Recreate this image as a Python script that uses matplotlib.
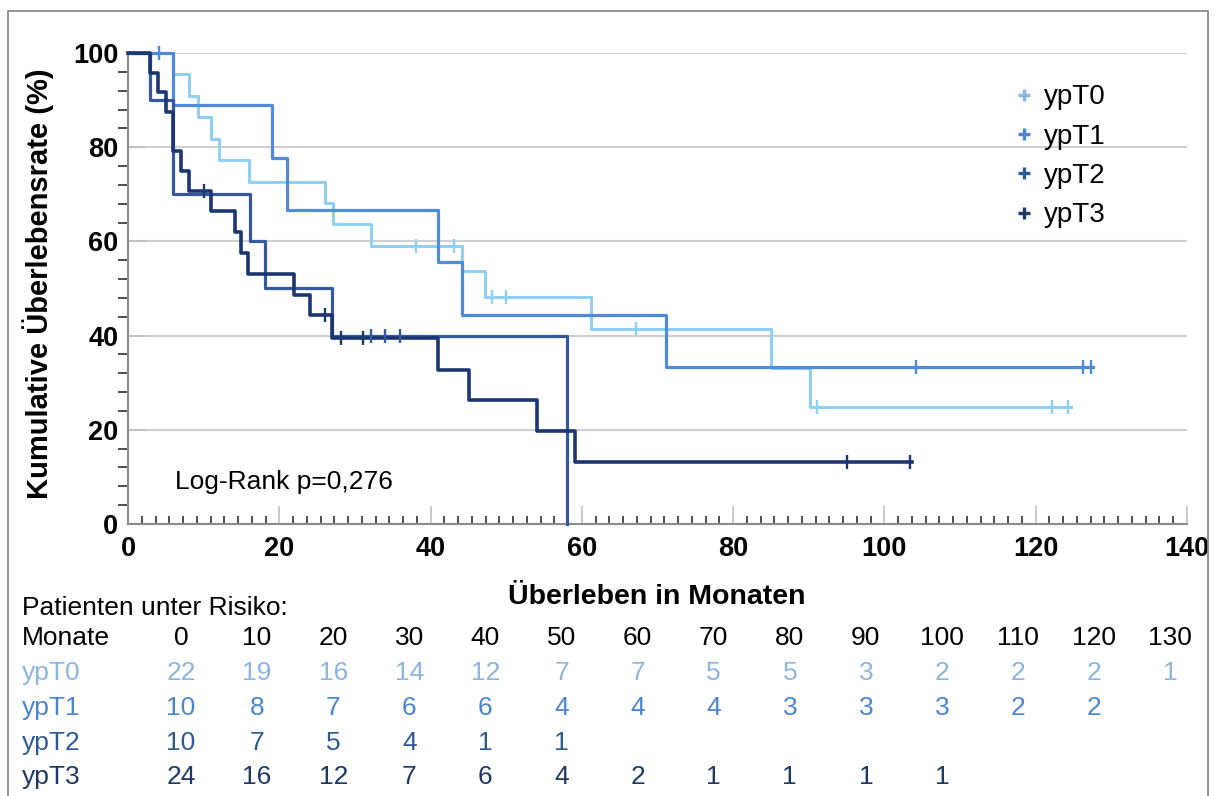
import numpy as np
import matplotlib
matplotlib.use("Agg")
from matplotlib import pyplot as plt
from matplotlib.lines import Line2D
from matplotlib.patches import Rectangle

plt.rcParams['font.family'] = ['Liberation Sans', 'DejaVu Sans']

groups = ["ypT0", "ypT1", "ypT2", "ypT3"]

# Kaplan-Meier steps: time of each step (months) and survival (%) after it
t_ypT0 = [0, 6.0, 8.1, 9.2, 11.0, 12.0, 16.0, 26.0, 27.1, 32.1, 44.1, 47.2, 61.2, 85.0, 90.1, 124.7]
s_ypT0 = [100, 95.5, 90.9, 86.4, 81.8, 77.3, 72.7, 68.2, 63.6, 59.1, 53.7, 48.3, 41.4, 33.1, 24.8, 24.8]
c_ypT0 = [38.1, 43.1, 48.1, 50.0, 67.2, 91.1, 122.2, 124.3]

t_ypT1 = [0, 6.0, 19.1, 21.0, 41.0, 44.1, 71.1, 127.6]
s_ypT1 = [100, 88.9, 77.8, 66.7, 55.6, 44.4, 33.3, 33.3]
c_ypT1 = [4.1, 104.2, 126.3, 127.3]

t_ypT2 = [0, 2.9, 5.9, 16.1, 18.1, 27.0, 58.1]
s_ypT2 = [100, 90, 70, 60, 50, 40, 0]
c_ypT2 = [32.1, 34.0, 36.0]

t_ypT3 = [0, 2.9, 3.9, 5.0, 5.9, 7.0, 8.0, 11.0, 14.1, 14.9, 15.9, 22.0, 24.0, 27.0,
          41.0, 45.1, 54.1, 59.1, 103.6]
s_ypT3 = [100, 95.8, 91.7, 87.5, 79.2, 75.0, 70.8, 66.4, 62.0, 57.5, 53.1, 48.7, 44.3, 39.4,
          32.8, 26.3, 19.7, 13.1, 13.1]
c_ypT3 = [10.1, 26.1, 28.1, 31.1, 95.1, 103.4]

# patients at risk
months = [0, 10, 20, 30, 40, 50, 60, 70, 80, 90, 100, 110, 120, 130]
risk_ypT0 = [22, 19, 16, 14, 12, 7, 7, 5, 5, 3, 2, 2, 2, 1]
risk_ypT1 = [10, 8, 7, 6, 6, 4, 4, 4, 3, 3, 3, 2, 2]
risk_ypT2 = [10, 7, 5, 4, 1, 1]
risk_ypT3 = [24, 16, 12, 7, 6, 4, 2, 1, 1, 1, 1]

times = [t_ypT0, t_ypT1, t_ypT2, t_ypT3]
survs = [s_ypT0, s_ypT1, s_ypT2, s_ypT3]
cens = [c_ypT0, c_ypT1, c_ypT2, c_ypT3]
risks = [risk_ypT0, risk_ypT1, risk_ypT2, risk_ypT3]

line_colors = ['#8FD0F3', '#4F8ADB', '#35589F', '#1C3672']
line_widths = [2.2, 2.3, 2.3, 2.6]
text_colors = ['#8DB4E2', '#4A86D0', '#2E5A94', '#1F3864']

W, H = 1215, 796
fig = plt.figure(figsize=(W / 100, H / 100), dpi=100)


def px(x, y):
    return x / W, 1 - y / H


ax = fig.add_axes([128 / W, 1 - 524 / H, (1187 - 128) / W, (524 - 53) / H])

for t, s, c, col, lw in zip(times, survs, cens, line_colors, line_widths):
    ax.step(t, s, where='post', color=col, lw=lw, clip_on=False, zorder=3)
    idx = np.searchsorted(t, c, side='right') - 1
    cy = np.array(s)[idx]
    ax.plot(c, cy, ls='none', marker='|', ms=10, mew=1.7, color=col, zorder=4, clip_on=False)

ax.set_xlim(0, 140)
ax.set_ylim(0, 100)
ax.set_xticks(np.arange(0, 141, 20))
ax.set_yticks(np.arange(0, 101, 20))
xminor = [m + k * 20 / 11 for m in range(0, 140, 20) for k in range(1, 11)]
ax.set_xticks(xminor, minor=True)
ax.set_yticks([v for v in range(0, 101, 4) if v % 20], minor=True)

ax.tick_params(axis='both', which='major', direction='in', length=13, width=1.2,
               color='#c0c0c0', labelsize=19.5)
ax.tick_params(axis='x', which='major', pad=9)
ax.tick_params(axis='y', which='major', pad=7)
ax.tick_params(axis='x', which='minor', direction='in', length=6, width=1.3, color='#404040')
ax.tick_params(axis='y', which='minor', direction='out', length=7, width=1.3, color='#404040')
for lab in ax.get_xticklabels() + ax.get_yticklabels():
    lab.set_fontweight('bold')

ax.grid(axis='y', which='major', color='#cfcfcf', lw=1.5, zorder=0)
for sp in ['top', 'right']:
    ax.spines[sp].set_visible(False)
for sp in ['left', 'bottom']:
    ax.spines[sp].set_color('#8c8c8c')
    ax.spines[sp].set_linewidth(1.5)

handles = [Line2D([], [], ls='none', marker='+', ms=9, mew=2.4, color=c) for c in text_colors]
ax.legend(handles, groups, loc='upper left', bbox_to_anchor=(0.826, 0.957), frameon=False,
          fontsize=20, handlelength=0.7, handletextpad=0.4, labelspacing=0.48,
          borderaxespad=0)

ax.text(6.2, 9.0, "Log-Rank p=0,276", fontsize=19, va='center', ha='left')

fig.text(*px(657, 597), "Überleben in Monaten", fontsize=20.5, fontweight='bold',
         ha='center', va='center')
fig.text(*px(38, 284), "Kumulative Überlebensrate (%)", fontsize=21, fontweight='bold',
         rotation=90, ha='center', va='center')

# risk table
fig.text(*px(22, 608), "Patienten unter Risiko:", fontsize=19, ha='left', va='center')
fig.text(*px(22, 638), "Monate", fontsize=19, ha='left', va='center')
col_x = [181 + 76.1 * i for i in range(len(months))]
for x, m in zip(col_x, months):
    fig.text(*px(x, 638), str(m), fontsize=19, ha='center', va='center')
row_y = [673, 708, 743, 777]
for g, r, col, y in zip(groups, risks, text_colors, row_y):
    fig.text(*px(22, y), g, fontsize=19, ha='left', va='center', color=col)
    for x, n in zip(col_x, r):
        fig.text(*px(x, y), str(n), fontsize=19, ha='center', va='center', color=col)

fig.patches.append(Rectangle(px(7.5, 805), (1208 - 7.5) / W, (805 - 10.5) / H,
                             transform=fig.transFigure, fill=False,
                             edgecolor='#8a8a8a', lw=1.3))

fig.savefig("out.png", dpi=100)
